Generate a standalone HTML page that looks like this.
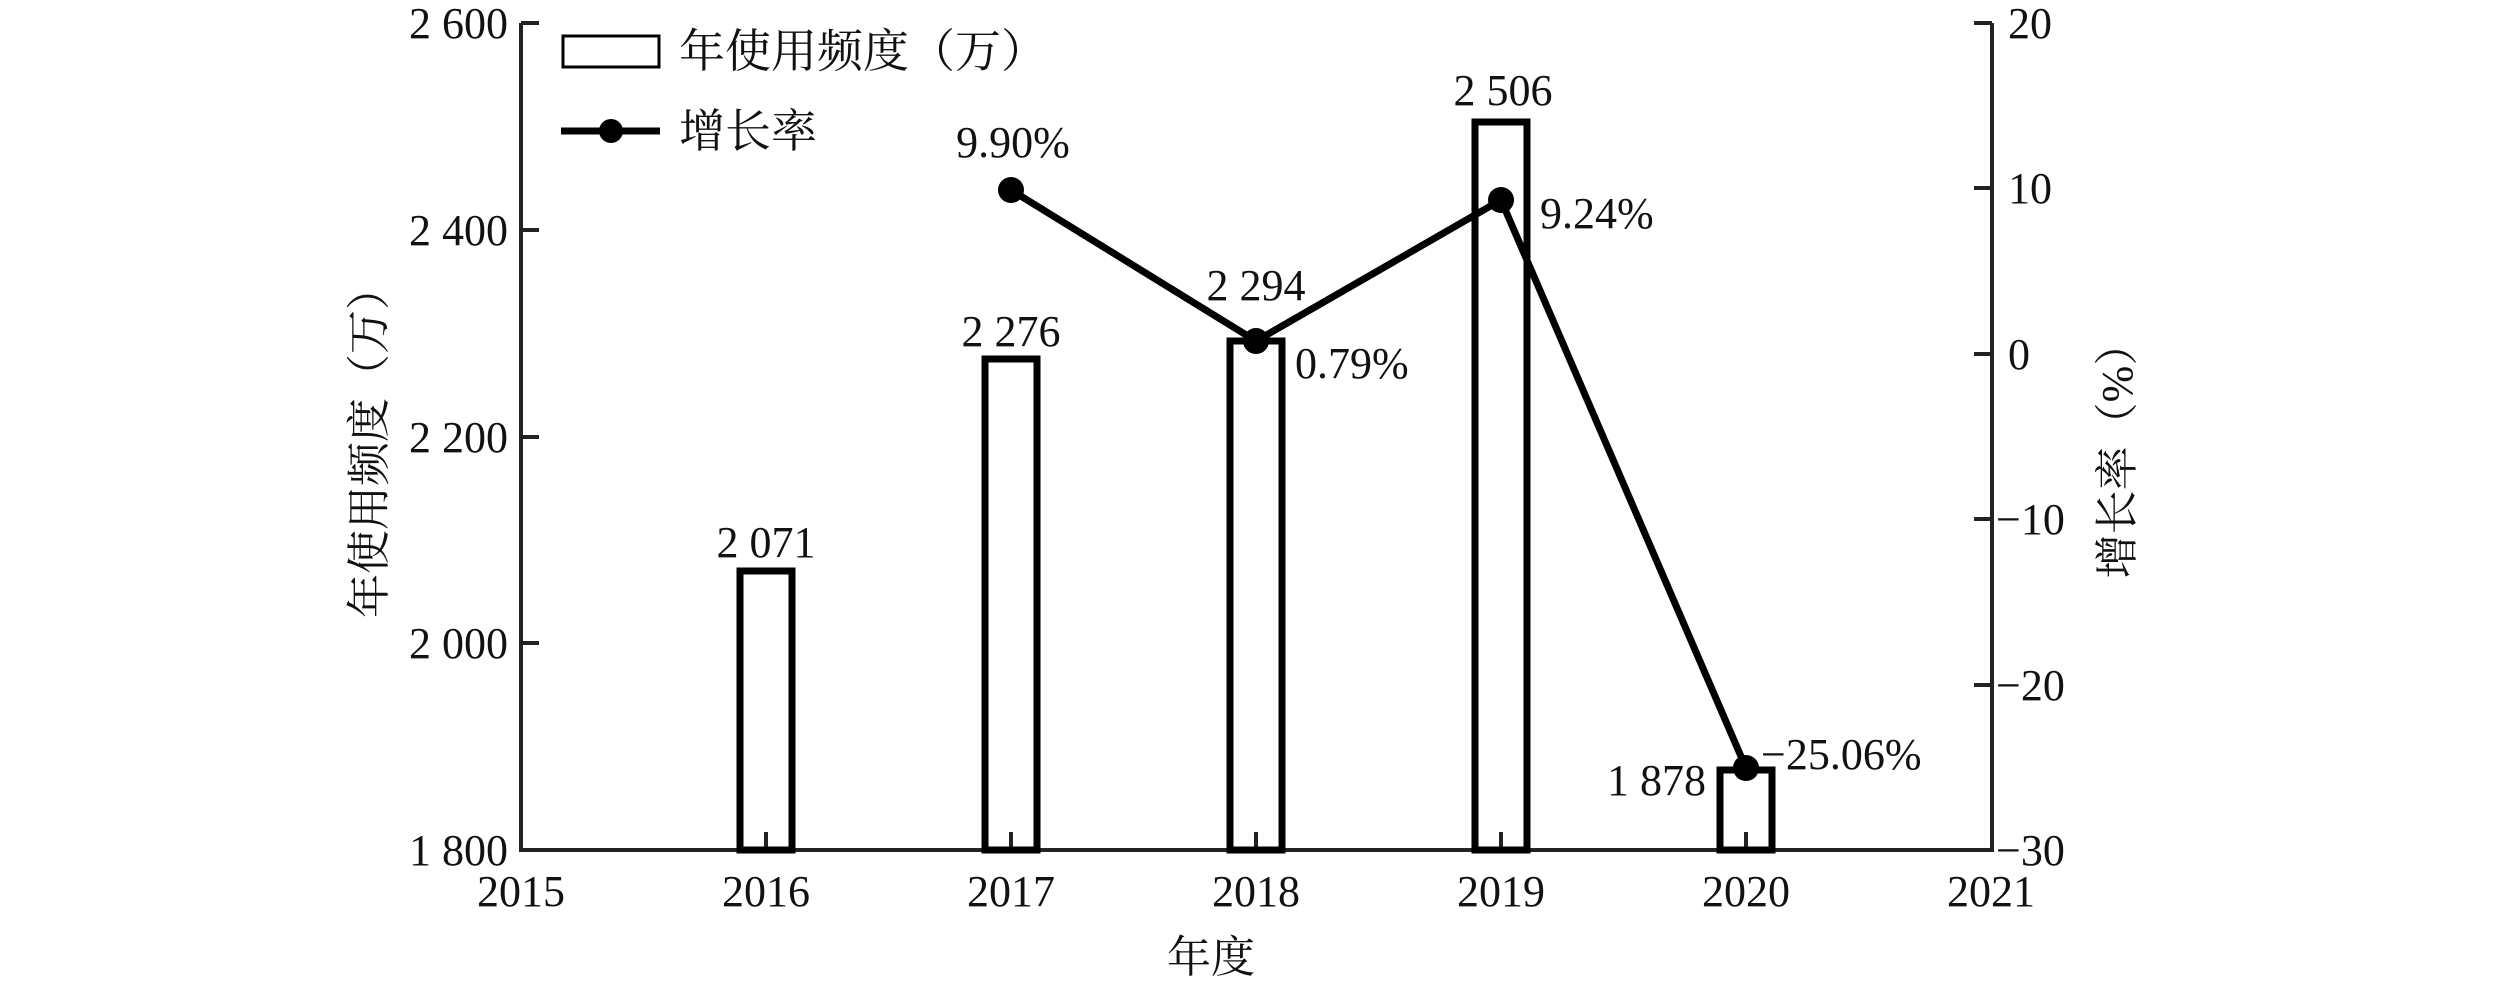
<!DOCTYPE html>
<html><head><meta charset="utf-8"><style>
html,body{margin:0;padding:0;background:#fff;}
svg{display:block;}
text{font-family:"Liberation Serif","Noto Serif CJK SC",serif;fill:#111;}
.c{font-family:"Liberation Serif","Noto Serif CJK SC","Noto Sans CJK SC",serif;}
</style></head><body>
<svg width="2519" height="985" viewBox="0 0 2519 985" xmlns="http://www.w3.org/2000/svg">
<g stroke="#222" stroke-width="4" fill="none">
<path d="M521 23 V850 H1992 V23"/>
<path d="M521 23 H539 M521 230 H539 M521 437 H539 M521 643 H539"/>
<path d="M1992 23 H1974 M1992 188 H1974 M1992 354 H1974 M1992 519 H1974 M1992 685 H1974"/>
<path d="M766 850 V832 M1011 850 V832 M1256 850 V832 M1501 850 V832 M1746 850 V832"/>
</g>
<g stroke="#000" stroke-width="7" fill="none">
<rect x="740" y="571" width="52" height="279"/>
<rect x="985" y="359" width="52" height="491"/>
<rect x="1230" y="341" width="52" height="509"/>
<rect x="1475" y="122" width="52" height="728"/>
<rect x="1720" y="770" width="52" height="80"/>
</g>
<polyline points="1011,190 1256,341 1501,200 1746,768" stroke="#000" stroke-width="7" fill="none"/>
<g fill="#000"><circle cx="1011" cy="190" r="13"/><circle cx="1256" cy="341" r="13"/><circle cx="1501" cy="200" r="13"/><circle cx="1746" cy="768" r="13"/></g>
<g font-size="44" text-anchor="end">
<text x="508" y="38">2 600</text><text x="508" y="245">2 400</text><text x="508" y="452">2 200</text><text x="508" y="658">2 000</text><text x="508" y="865">1 800</text>
</g>
<g font-size="44" text-anchor="start">
<text x="2008" y="38">20</text><text x="2008" y="203">10</text><text x="2008" y="369">0</text><text x="1996" y="534">−10</text><text x="1996" y="700">−20</text><text x="1996" y="865">−30</text>
</g>
<g font-size="44" text-anchor="middle">
<text x="521" y="906">2015</text><text x="766" y="906">2016</text><text x="1011" y="906">2017</text><text x="1256" y="906">2018</text><text x="1501" y="906">2019</text><text x="1746" y="906">2020</text><text x="1991" y="906">2021</text>
<text x="766" y="557">2 071</text><text x="1011" y="346">2 276</text><text x="1256" y="300">2 294</text><text x="1503" y="105">2 506</text>
<text x="1013" y="157">9.90%</text>
</g>
<g font-size="44">
<text x="1295" y="378">0.79%</text><text x="1540" y="228">9.24%</text>
<text x="1706" y="795" text-anchor="end">1 878</text><text x="1761" y="769">−25.06%</text>
</g>
<rect x="563" y="36" width="96" height="31" fill="none" stroke="#000" stroke-width="3"/>
<line x1="561" y1="131" x2="660" y2="131" stroke="#000" stroke-width="7"/>
<circle cx="611" cy="131" r="12" fill="#000"/>
<text class="c" x="679" y="67" font-size="46">年使用频度（万）</text>
<text class="c" x="679" y="147" font-size="46">增长率</text>
<text class="c" x="1211" y="972" font-size="44" text-anchor="middle">年度</text>
<text class="c" transform="translate(384,442) rotate(-90)" font-size="44" text-anchor="middle">年使用频度（万）</text>
<text class="c" transform="translate(2132,450) rotate(-90)" font-size="44" text-anchor="middle">增长率（%）</text>
</svg>
</body></html>
